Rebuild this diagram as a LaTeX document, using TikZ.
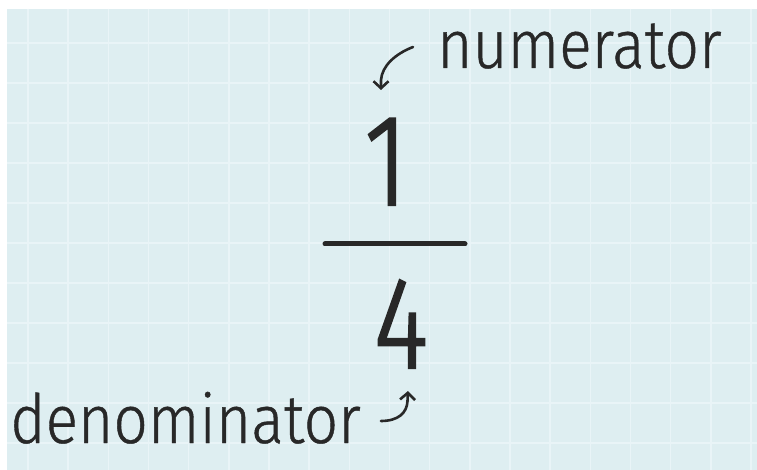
\documentclass[tikz,border=0pt]{standalone}
\usepackage{fontspec}
\setmainfont{Fira Sans Light}
\newfontfamily\handfont[FakeStretch=0.89,FakeBold=0.6]{Fira Sans Light}
\newfontfamily\digitfont[FakeStretch=0.8,FakeBold=1.8]{Fira Sans Light}
\usetikzlibrary{arrows.meta}
\definecolor{bg}{RGB}{222,238,241}
\definecolor{gridc}{RGB}{233,244,247}
\definecolor{ink}{RGB}{40,40,40}
\tikzset{
  gridline/.style={draw=gridc, line width=1.5pt},
  label/.style={inner sep=0pt, text=ink, font=\handfont\fontsize{68}{68}\selectfont},
  digit/.style={inner sep=0pt, text=ink, font=\digitfont\fontsize{130}{130}\selectfont},
  pointer/.style={draw=ink, line width=2.6pt, line cap=round, line join=round, -{Straight Barb[length=7pt,width=15pt,line width=2.6pt]}},
}
\begin{document}
\begin{tikzpicture}[x=1pt,y=-1pt]
\useasboundingbox (0,0) rectangle (757,470);
\fill[white] (0,0) rectangle (757,470);
\fill[bg] (7,9) rectangle (757,470);
\foreach \i in {0,...,18} \draw[gridline] ({28+40.17*\i},9) -- ({28+40.17*\i},470);
\foreach \j in {0,...,10} \draw[gridline] (7,{43+40*\j}) -- (757,{43+40*\j});
% texts
\node[label, anchor=base west] (num) at (437,68) {numerator};
\node[label, anchor=base west] (den) at (10,443) {denominator};
\node[digit, anchor=base] (one) at (386,205) {1};
\node[digit, anchor=base] (four) at (401,368) {4};
% fraction bar
\coordinate (barl) at (325,244);
\coordinate (barr) at (465,244);
\draw[ink, line width=5pt, line cap=round] (barl) -- (barr);
% arrows
\coordinate (a1s) at (413,47);
\coordinate (a1e) at (381,90);
\draw[pointer] (a1s) .. controls (395,54) and (382,66) .. (381,80) -- (a1e);
\coordinate (a2s) at (381,421);
\coordinate (a2e) at (408,391);
\draw[pointer] (a2s) .. controls (398,421) and (407,413) .. (407.5,401) -- (a2e);
\end{tikzpicture}
\end{document}
